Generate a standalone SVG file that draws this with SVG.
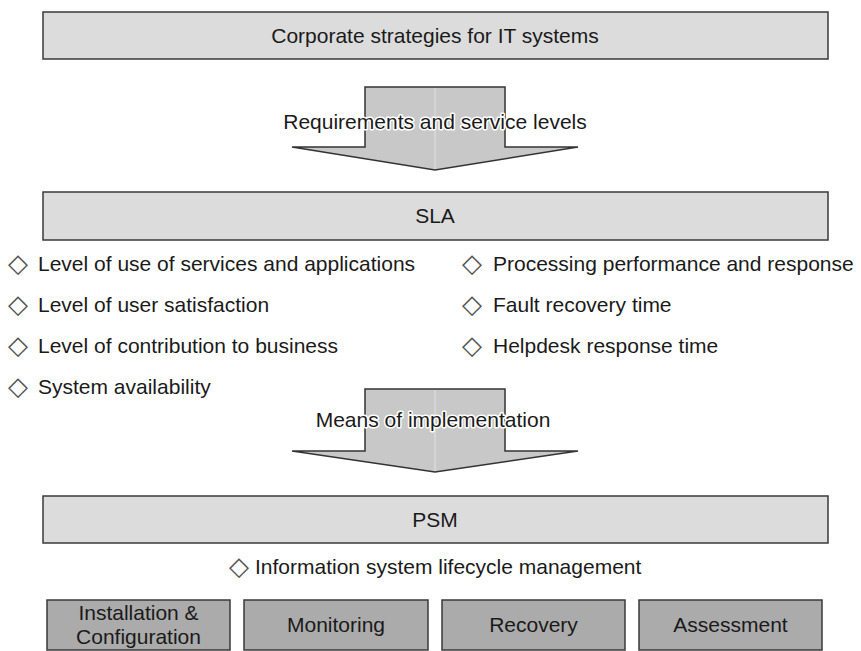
<svg xmlns="http://www.w3.org/2000/svg" width="861" height="651" viewBox="0 0 861 651">
<style>
  .bar { fill: #dcdcdd; stroke: #3a3a3a; stroke-width: 1.5; }
  .sub { fill: #ababab; stroke: #3a3a3a; stroke-width: 1.5; }
  .t { font-family: "Liberation Sans", Arial, sans-serif; font-size: 21px; fill: #1a1a1a; }
  .c { text-anchor: middle; }
  .halo { paint-order: stroke; stroke: #ffffff; stroke-width: 3px; stroke-linejoin: round; }
  .dia { font-family: "DejaVu Sans", sans-serif; font-size: 26px; fill: #555555; text-anchor: middle; }
  .arrow { fill: #c8c8c8; stroke: #333333; stroke-width: 1.5; stroke-linejoin: miter; }
  .mid { stroke: #e2e2e2; stroke-width: 1; }
</style>

<g id="corporate">
  <rect class="bar" x="43" y="12" width="785" height="47"/>
  <text class="t c" x="435" y="43">Corporate strategies for IT systems</text>
</g>

<g id="connectors">
  <g id="arrow-requirements">
    <polygon class="arrow" points="365,87 505,87 505,147 578,147 435,170 292,147 365,147"/>
    <line class="mid" x1="435" y1="88" x2="435" y2="169"/>
    <text class="t c halo" x="435" y="129">Requirements and service levels</text>
  </g>
  <g id="arrow-means">
    <polygon class="arrow" points="365,389 505,389 505,451 578,451 435,472 292,451 365,451"/>
    <line class="mid" x1="435" y1="390" x2="435" y2="471"/>
    <text class="t c halo" x="433" y="427">Means of implementation</text>
  </g>
</g>

<g id="sla">
  <rect class="bar" x="43" y="192" width="785" height="48"/>
  <text class="t c" x="435" y="223">SLA</text>
</g>

<g id="sla-items">
  <text class="dia" x="18" y="272">◇</text>
  <text class="t" x="38" y="271">Level of use of services and applications</text>
  <text class="dia" x="18" y="313">◇</text>
  <text class="t" x="38" y="312">Level of user satisfaction</text>
  <text class="dia" x="18" y="354">◇</text>
  <text class="t" x="38" y="353">Level of contribution to business</text>
  <text class="dia" x="18" y="395">◇</text>
  <text class="t" x="38" y="394">System availability</text>

  <text class="dia" x="472" y="272">◇</text>
  <text class="t" x="493" y="271">Processing performance and response</text>
  <text class="dia" x="472" y="313">◇</text>
  <text class="t" x="493" y="312">Fault recovery time</text>
  <text class="dia" x="472" y="354">◇</text>
  <text class="t" x="493" y="353">Helpdesk response time</text>
</g>

<g id="psm">
  <rect class="bar" x="43" y="496" width="785" height="47"/>
  <text class="t c" x="435" y="527">PSM</text>
</g>

<g id="lifecycle">
  <text class="dia" x="239" y="575">◇</text>
  <text class="t" x="255" y="574">Information system lifecycle management</text>
</g>

<g id="installation">
  <rect class="sub" x="47" y="600" width="183" height="50"/>
  <text class="t c" x="138.5" y="620">Installation &amp;</text>
  <text class="t c" x="138.5" y="644">Configuration</text>
</g>
<g id="monitoring">
  <rect class="sub" x="244" y="600" width="184" height="50"/>
  <text class="t c" x="336" y="632">Monitoring</text>
</g>
<g id="recovery">
  <rect class="sub" x="442" y="600" width="183" height="50"/>
  <text class="t c" x="533.5" y="632">Recovery</text>
</g>
<g id="assessment">
  <rect class="sub" x="639" y="600" width="183" height="50"/>
  <text class="t c" x="730.5" y="632">Assessment</text>
</g>
</svg>
